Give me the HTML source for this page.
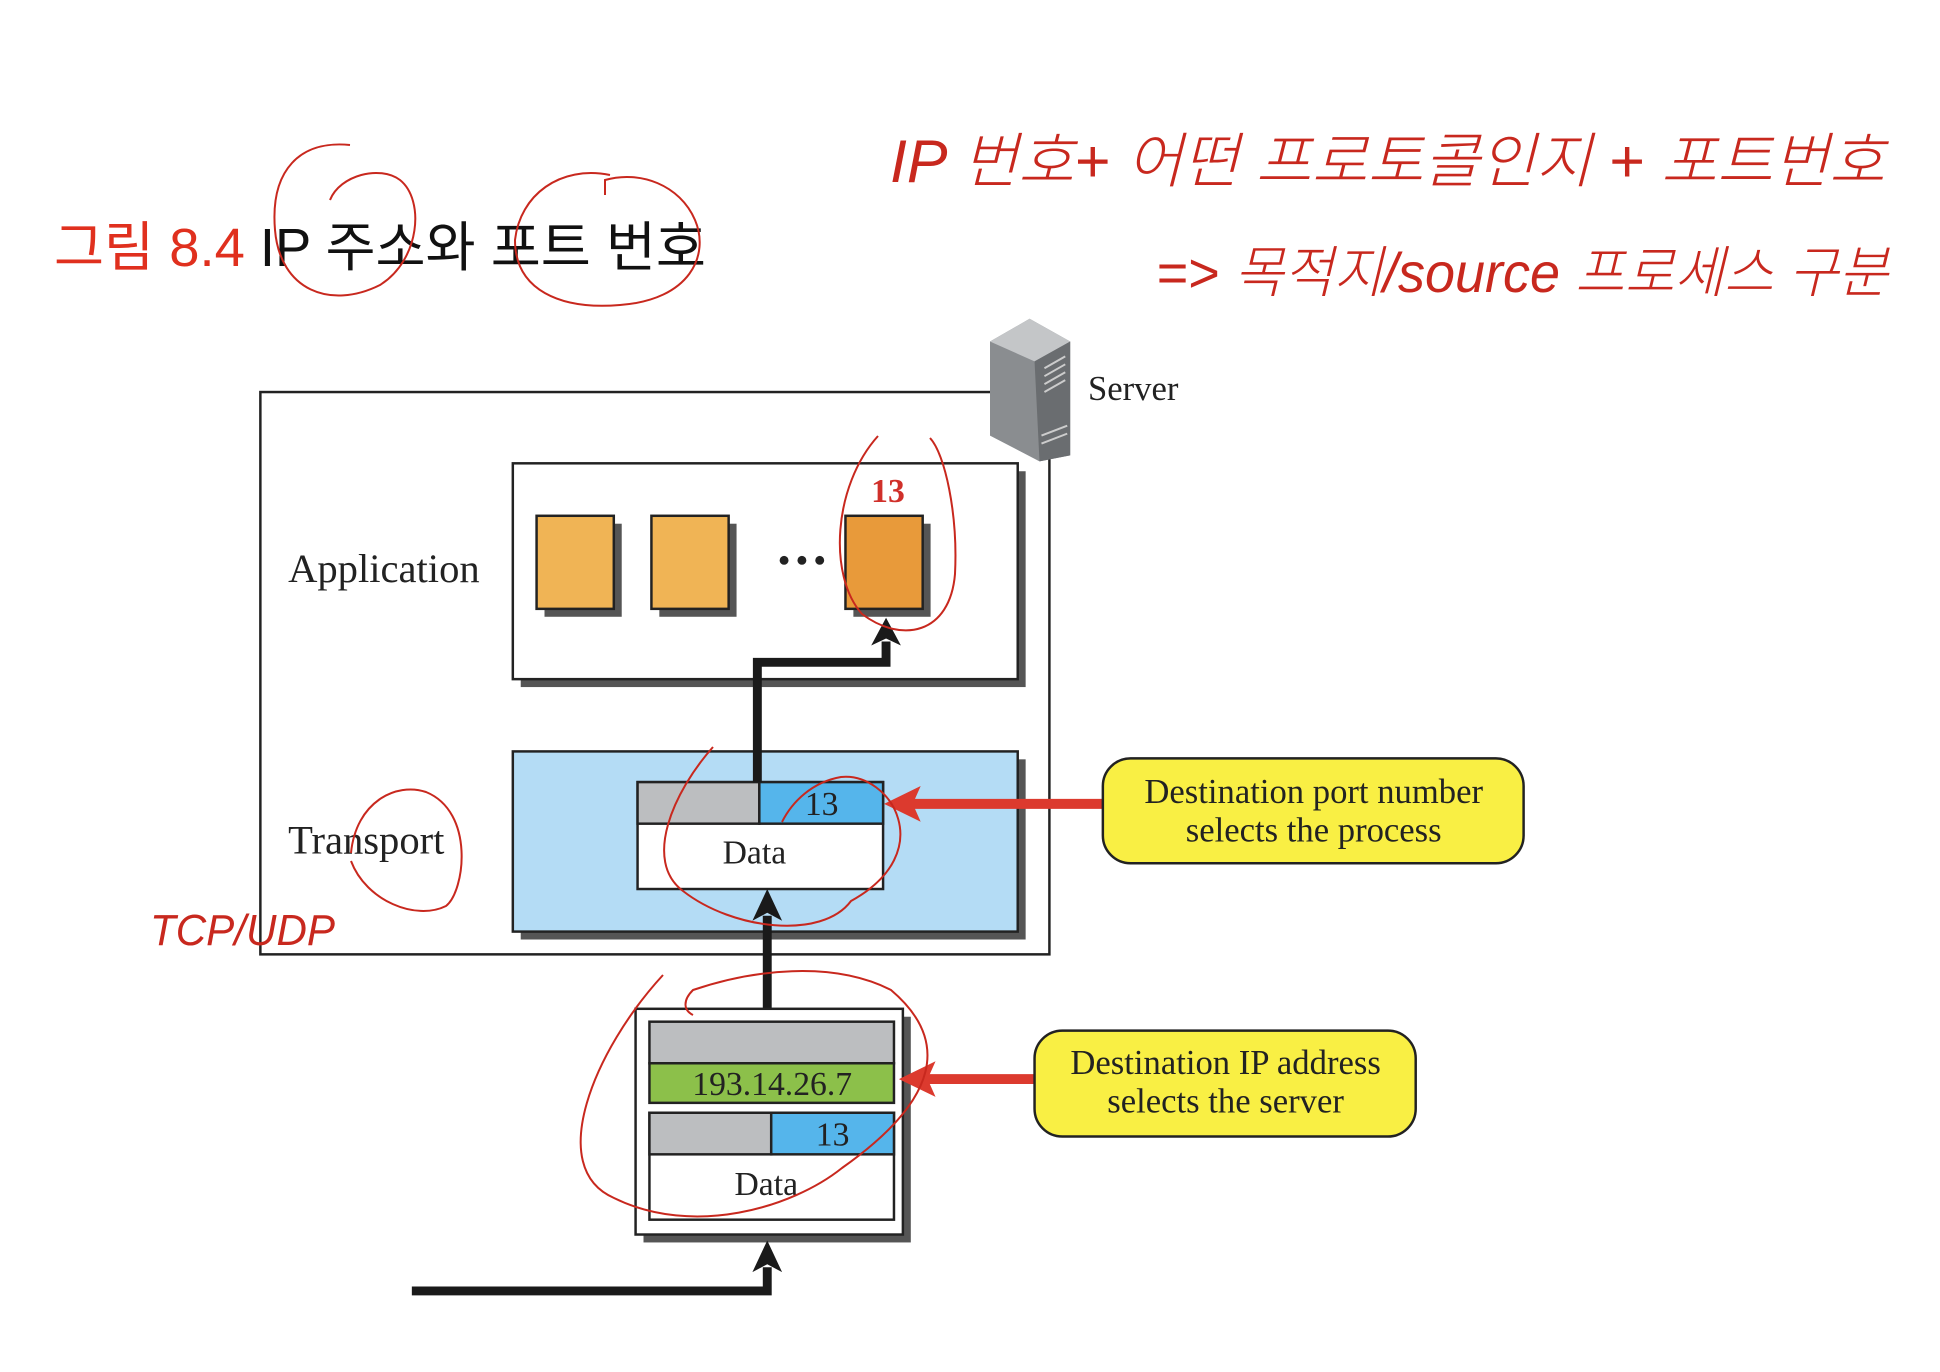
<!DOCTYPE html>
<html><head><meta charset="utf-8"><style>
html,body{margin:0;padding:0;background:#fff;}
svg{display:block;}
</style></head><body>
<svg width="1940" height="1372" viewBox="0 0 1940 1372" xmlns="http://www.w3.org/2000/svg" font-family="Liberation Serif, serif">
<rect width="1940" height="1372" fill="#fff"/>
<!-- Title -->
<text x="54" y="266" font-family="Liberation Sans, 'Noto Sans CJK KR', sans-serif" font-size="54" fill="#e0301e" textLength="652" lengthAdjust="spacingAndGlyphs">그림 8.4 <tspan fill="#111">IP 주소와 포트 번호</tspan></text>

<g transform="scale(0.99)">
<!-- Outer box -->
<rect x="263" y="396" width="797" height="568" fill="none" stroke="#222" stroke-width="2.5"/>

<!-- Server icon -->
<polygon points="1000,345 1040,322 1081,345 1081,460 1050,466 1000,440" fill="#8a8d90"/>
<polygon points="1000,345 1040,322 1081,345 1045,365" fill="#c4c6c8"/>
<polygon points="1045,365 1081,345 1081,460 1050,466" fill="#6a6d70"/>
<g stroke="#ccc" stroke-width="2"><line x1="1055" y1="372" x2="1076" y2="360"/><line x1="1055" y1="380" x2="1076" y2="368"/><line x1="1055" y1="388" x2="1076" y2="376"/><line x1="1055" y1="396" x2="1076" y2="384"/><line x1="1052" y1="440" x2="1078" y2="430"/><line x1="1052" y1="448" x2="1078" y2="438"/></g>
<text x="1099" y="404" font-size="35" fill="#222">Server</text>

<!-- Application box -->
<rect x="526" y="476" width="510" height="218" fill="#555"/>
<rect x="518" y="468" width="510" height="218" fill="#fff" stroke="#222" stroke-width="2.5"/>
<text x="291" y="588" font-size="41" fill="#222">Application</text>
<rect x="550" y="529" width="78" height="94" fill="#555"/>
<rect x="542" y="521" width="78" height="94" fill="#f0b455" stroke="#222" stroke-width="2.5"/>
<rect x="666" y="529" width="78" height="94" fill="#555"/>
<rect x="658" y="521" width="78" height="94" fill="#f0b455" stroke="#222" stroke-width="2.5"/>
<rect x="862" y="529" width="78" height="94" fill="#555"/>
<rect x="854" y="521" width="78" height="94" fill="#e89a3a" stroke="#222" stroke-width="2.5"/>
<circle cx="792" cy="566" r="4.5" fill="#222"/><circle cx="810" cy="566" r="4.5" fill="#222"/><circle cx="828" cy="566" r="4.5" fill="#222"/>
<text x="897" y="507" font-size="34" font-weight="bold" fill="#d0302a" text-anchor="middle">13</text>

<!-- Transport box -->
<rect x="526" y="767" width="510" height="182" fill="#555"/>
<rect x="518" y="759" width="510" height="182" fill="#b4dcf5" stroke="#222" stroke-width="2.5"/>
<text x="291" y="862" font-size="41" fill="#222">Transport</text>
<rect x="644" y="790" width="248" height="108" fill="#fff" stroke="#222" stroke-width="2.5"/>
<rect x="644" y="790" width="123" height="42" fill="#bcbec0" stroke="#222" stroke-width="2.5"/>
<rect x="767" y="790" width="125" height="42" fill="#55b5eb" stroke="#222" stroke-width="2.5"/>
<text x="830" y="823" font-size="34" fill="#222" text-anchor="middle">13</text>
<text x="762" y="872" font-size="34" fill="#222" text-anchor="middle">Data</text>

<!-- Arrow transport -> app -->
<polyline points="765,790 765,669 895,669 895,648" fill="none" stroke="#1a1a1a" stroke-width="9"/>
<polygon points="895,624 880,652 895,645 910,652" fill="#1a1a1a"/>

<!-- Red arrow 1 -->
<line x1="1114" y1="812" x2="920" y2="812" stroke="#dc3a2e" stroke-width="10"/>
<polygon points="893,812 930,794 922,812 930,830" fill="#dc3a2e"/>
<rect x="1114" y="766" width="425" height="106" rx="28" fill="#f9ef44" stroke="#222" stroke-width="2.5"/>
<text x="1327" y="811" font-size="35" fill="#222" text-anchor="middle">Destination port number</text>
<text x="1327" y="850" font-size="35" fill="#222" text-anchor="middle">selects the process</text>

<!-- Arrow IP packet -> transport -->
<line x1="775" y1="1032" x2="775" y2="925" stroke="#1a1a1a" stroke-width="9"/>
<polygon points="775,898 760,930 775,922 790,930" fill="#1a1a1a"/>

<!-- IP packet -->
<rect x="650" y="1027" width="270" height="228" fill="#555"/>
<rect x="642" y="1019" width="270" height="228" fill="#fff" stroke="#222" stroke-width="2.5"/>
<rect x="656" y="1032" width="247" height="42" fill="#bcbec0" stroke="#222" stroke-width="2.5"/>
<rect x="656" y="1074" width="247" height="40" fill="#8cc04a" stroke="#222" stroke-width="2.5"/>
<text x="780" y="1106" font-size="34" fill="#222" text-anchor="middle">193.14.26.7</text>
<rect x="656" y="1124" width="247" height="108" fill="#fff" stroke="#222" stroke-width="2.5"/>
<rect x="656" y="1124" width="123" height="42" fill="#bcbec0" stroke="#222" stroke-width="2.5"/>
<rect x="779" y="1124" width="124" height="42" fill="#55b5eb" stroke="#222" stroke-width="2.5"/>
<text x="841" y="1157" font-size="34" fill="#222" text-anchor="middle">13</text>
<text x="774" y="1207" font-size="34" fill="#222" text-anchor="middle">Data</text>

<!-- Red arrow 2 -->
<line x1="1045" y1="1090" x2="935" y2="1090" stroke="#dc3a2e" stroke-width="10"/>
<polygon points="908,1090 945,1072 937,1090 945,1108" fill="#dc3a2e"/>
<rect x="1045" y="1041" width="385" height="107" rx="28" fill="#f9ef44" stroke="#222" stroke-width="2.5"/>
<text x="1238" y="1085" font-size="35" fill="#222" text-anchor="middle">Destination IP address</text>
<text x="1238" y="1124" font-size="35" fill="#222" text-anchor="middle">selects the server</text>

<!-- Bottom arrow -->
<polyline points="416,1304 775,1304 775,1280" fill="none" stroke="#1a1a1a" stroke-width="9"/>
<polygon points="775,1253 760,1285 775,1277 790,1285" fill="#1a1a1a"/>
</g>

<!-- Handwritten annotations -->
<g fill="none" stroke="#c8281e" stroke-width="2">
<path d="M350,145 C300,140 270,170 275,230 C280,290 330,310 380,285 C420,260 425,200 400,180 C380,165 340,175 330,200"/>
<path d="M610,175 C560,165 520,195 515,240 C515,290 560,310 620,305 C690,300 710,255 695,220 C680,185 640,170 605,180 L605,195"/>
<path d="M878,436 C833,486 828,576 862,614 C902,644 950,634 955,574 C958,514 945,454 930,438"/>
<path d="M351,853 C356,802 396,782 426,792 C475,812 465,891 446,906 C416,921 366,901 351,861"/>
<path d="M713,747 C673,792 643,861 683,891 C733,930 822,940 851,901 C940,852 891,772 841,777 C812,782 792,802 782,822"/>
<path d="M663,975 C594,1050 545,1168 614,1198 C693,1237 792,1208 842,1168 C940,1099 950,1040 891,990 C832,960 752,970 693,990 C683,1000 683,1010 693,1015"/>
</g>
<g font-family="Liberation Sans, 'Noto Sans CJK KR', sans-serif" fill="#c8281e" font-weight="300" font-style="italic">
<text x="150" y="945" font-size="44" textLength="185" lengthAdjust="spacingAndGlyphs">TCP/UDP</text>
<text x="890" y="182" font-size="60" textLength="995" lengthAdjust="spacingAndGlyphs">IP 번호+ 어떤 프로토콜인지 + 포트번호</text>
<text x="1156" y="292" font-size="56" textLength="732" lengthAdjust="spacingAndGlyphs">=&gt; 목적지/source 프로세스 구분</text>
</g>
</svg>
</body></html>
